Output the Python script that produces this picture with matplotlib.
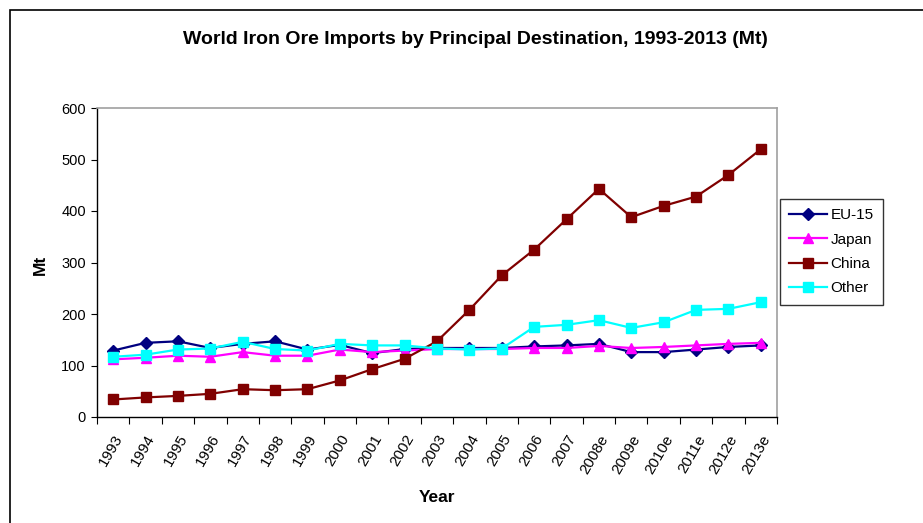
import numpy as np
import matplotlib
matplotlib.use("Agg")
import matplotlib.pyplot as plt
from matplotlib.patches import Rectangle

plt.rcParams['font.family'] = ['Liberation Sans', 'DejaVu Sans']

# data (Mt)
years = ['1993', '1994', '1995', '1996', '1997', '1998', '1999', '2000', '2001', '2002',
         '2003', '2004', '2005', '2006', '2007', '2008e', '2009e', '2010e', '2011e',
         '2012e', '2013e']
eu15 = [129, 144, 147, 134, 142, 147, 131, 140, 124, 132,
        134, 134, 134, 137, 139, 142, 126, 126, 131, 136, 139]
japan = [112, 115, 119, 117, 126, 119, 119, 131, 126, 129,
         132, 132, 132, 134, 134, 138, 134, 136, 139, 142, 144]
china = [34, 38, 41, 45, 54, 52, 54, 71, 93, 113,
         147, 208, 275, 325, 384, 443, 388, 410, 428, 470, 520]
other = [117, 121, 131, 133, 146, 132, 129, 142, 139, 139,
         133, 131, 133, 175, 179, 188, 173, 184, 208, 210, 223]

fig = plt.figure(figsize=(9.23, 5.23), dpi=100)
ax = fig.add_axes([97 / 923, 1 - 417 / 523, 680 / 923, 309 / 523])

# outer chart frame (top and left edges visible)
fig.patches.append(Rectangle((10 / 923, -0.1), 1.2, 1 - 10 / 523 + 0.1,
                             transform=fig.transFigure, fill=False,
                             edgecolor='black', linewidth=1.2))

x = np.arange(len(years))
ax.plot(x, eu15, color='#000080', marker='D', markersize=6, linewidth=1.6, label='EU-15')
ax.plot(x, japan, color='#FF00FF', marker='^', markersize=7, linewidth=1.6, label='Japan')
ax.plot(x, china, color='#800000', marker='s', markersize=6.5, linewidth=1.6, label='China')
ax.plot(x, other, color='#00FFFF', marker='s', markersize=6.5, linewidth=1.6, label='Other')

ax.set_xlim(-0.5, len(years) - 0.5)
ax.set_ylim(0, 600)
ax.set_yticks(np.arange(0, 601, 100))
ax.tick_params(axis='y', labelsize=10.5, length=4, direction='out', pad=4)

ax.set_xticks(np.arange(-0.5, len(years), 1))
ax.set_xticklabels([])
ax.tick_params(axis='x', which='major', length=5, direction='out')
ax.set_xticks(x, minor=True)
ax.set_xticklabels(years, minor=True)
ax.tick_params(axis='x', which='minor', length=0, labelsize=11, pad=11)
for lbl in ax.get_xticklabels(minor=True):
    lbl.set_rotation(60)
    lbl.set_ha('right')
    lbl.set_va('top')
    lbl.set_rotation_mode('anchor')

for side in ['top', 'right']:
    ax.spines[side].set_color('#a0a0a0')
    ax.spines[side].set_linewidth(1.2)
for side in ['left', 'bottom']:
    ax.spines[side].set_color('black')
    ax.spines[side].set_linewidth(1.0)

fig.text(475 / 923, 1 - 39 / 523, 'World Iron Ore Imports by Principal Destination, 1993-2013 (Mt)',
         ha='center', va='center', fontsize=14, fontweight='bold')
fig.text(40 / 923, 1 - 265 / 523, 'Mt', rotation=90, ha='center', va='center',
         fontsize=12.5, fontweight='bold')
fig.text(437 / 923, 1 - 497 / 523, 'Year', ha='center', va='center',
         fontsize=12.5, fontweight='bold')

leg = fig.legend(loc='upper left', bbox_to_anchor=(780 / 923, 1 - 199 / 523),
                 borderaxespad=0, fontsize=11, fancybox=False, frameon=True,
                 handlelength=2.5, handletextpad=0.2, borderpad=0.6, labelspacing=0.68)
leg.get_frame().set_edgecolor('black')
leg.get_frame().set_linewidth(1.0)

fig.savefig('out.png', dpi=100)
